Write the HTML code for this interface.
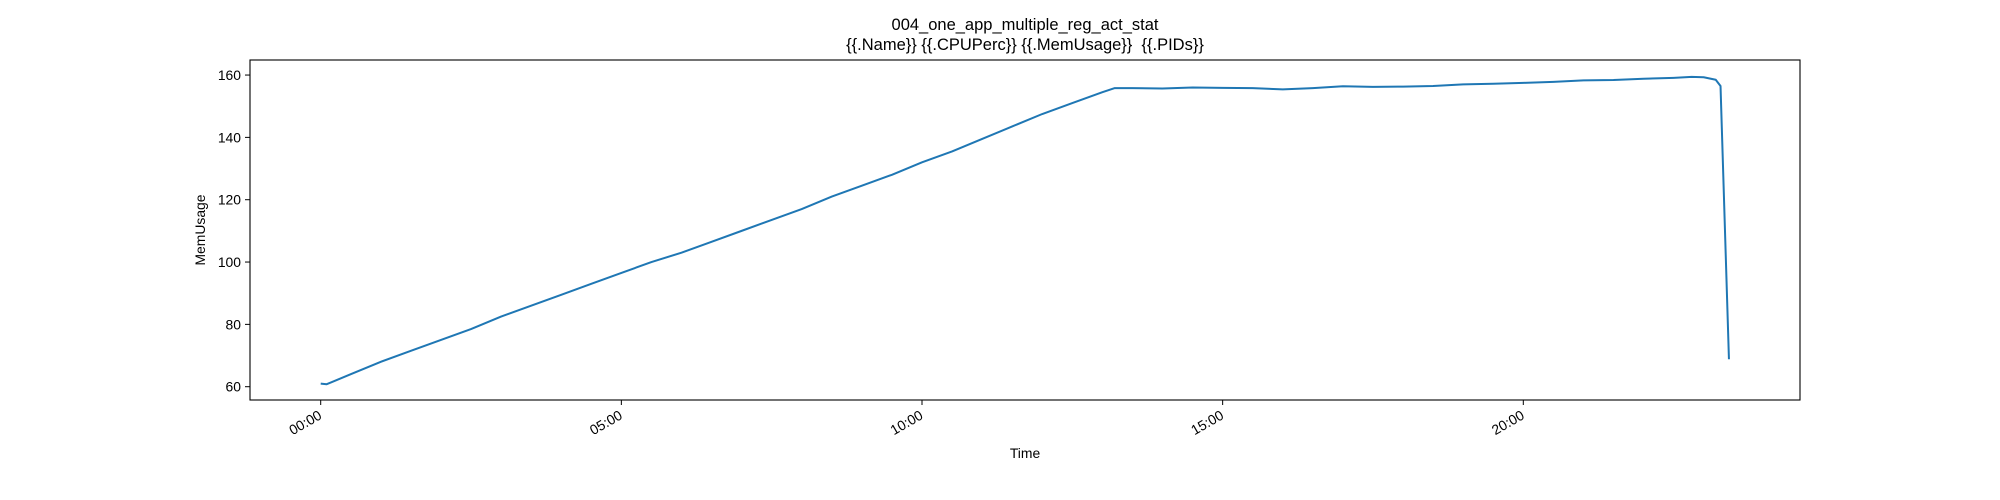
<!DOCTYPE html>
<html><head><meta charset="utf-8"><style>
body{margin:0;background:#fff}
svg{display:block;font-family:"Liberation Sans","DejaVu Sans",sans-serif}
</style></head><body>
<svg id="chart" width="2000" height="500">
<text x="1025" y="30" text-anchor="middle" font-size="16.5">004_one_app_multiple_reg_act_stat</text>
<text x="1025" y="50" text-anchor="middle" font-size="16.5" style="white-space:pre">{{.Name}} {{.CPUPerc}} {{.MemUsage}}  {{.PIDs}}</text>
<g id="axes"></g>
<rect x="250" y="60" width="1550" height="340" fill="none" stroke="#000" stroke-width="1.1"/>
<text x="1025" y="458" text-anchor="middle" font-size="13.9">Time</text>
<text transform="translate(205,230) rotate(-90)" text-anchor="middle" font-size="13.9">MemUsage</text>
</svg>
<script>
const hours=[0,0.1,0.5,1,1.5,2,2.5,3,3.5,4,4.5,5,5.5,6,6.5,7,7.5,8,8.5,9,9.5,10,10.5,11,11.5,12,12.5,13,13.2,13.5,14,14.5,15,15.5,16,16.5,17,17.5,18,18.5,19,19.5,20,20.5,21,21.5,22,22.5,22.8,23.0,23.2,23.28,23.42];
const mem=[61,60.8,64,68,71.5,75,78.5,82.5,86,89.5,93,96.5,100,103,106.5,110,113.5,117,121,124.5,128,132,135.5,139.5,143.5,147.5,151,154.5,155.8,155.8,155.7,156,155.9,155.8,155.4,155.8,156.4,156.2,156.3,156.5,157,157.2,157.5,157.8,158.3,158.4,158.8,159.1,159.4,159.3,158.5,156.5,68.8];
const yTicks=[60,80,100,120,140,160];
const xTicks=[0,5,10,15,20];
const xTickLabels=["00:00","05:00","10:00","15:00","20:00"];
const X=h=>320.7+h*60.13;
const Y=v=>386.7-(v-60)*3.1165;
const NS="http://www.w3.org/2000/svg";
const g=document.getElementById('axes');
function mk(t,a){const e=document.createElementNS(NS,t);for(const k in a)e.setAttribute(k,a[k]);g.appendChild(e);return e;}
yTicks.forEach(v=>{
 const l=mk('line',{x1:245,x2:250,y1:Y(v),y2:Y(v),stroke:'#000','stroke-width':1});
 
 
 const t=mk('text',{x:241,y:Y(v)+5,'text-anchor':'end','font-size':13.9});
 
 
 t.textContent=v;
});
xTicks.forEach((h,i)=>{
 const x=X(h);
 const l=mk('line',{x1:x,x2:x,y1:400,y2:405,stroke:'#000','stroke-width':1});
 
 
 const t=mk('text',{transform:`translate(${x+2},${418}) rotate(-30)`,'text-anchor':'end','font-size':13.9});
 
 
 t.textContent=xTickLabels[i];
});
const p=mk('polyline',{points:hours.map((h,i)=>X(h)+','+Y(mem[i])).join(' '),fill:'none',stroke:'#1f77b4','stroke-width':2,'stroke-linejoin':'round'});


</script>
</body></html>
